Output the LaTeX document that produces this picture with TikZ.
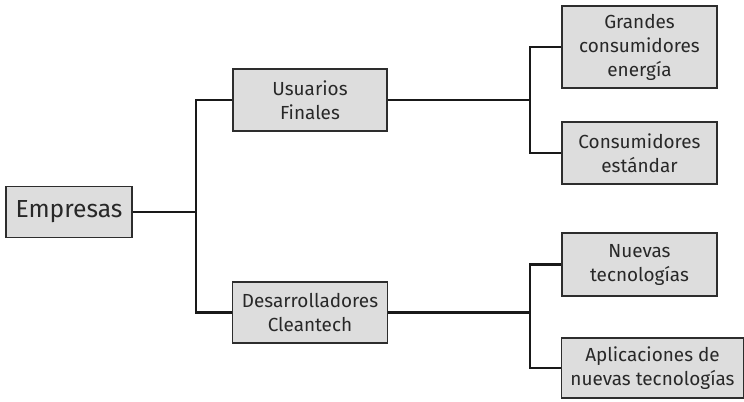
\documentclass[tikz,border=0pt]{standalone}
\usepackage{fontspec}
\setmainfont{Fira Sans}
\usepackage{tikz}

\definecolor{cajafondo}{RGB}{221,221,221}
\definecolor{cajaborde}{RGB}{45,45,45}
\definecolor{texto}{RGB}{40,40,40}

\begin{document}
\begin{tikzpicture}[x=0.75pt,y=0.75pt,yscale=-1,xscale=1,
  caja/.style={draw=cajaborde,fill=cajafondo,line width=0.9pt,inner sep=0pt,
    align=center,text=texto,font=\fontsize{14.2}{18}\selectfont},
  rama/.style={line width=2pt,black!90}]
\path[use as bounding box] (0,0) rectangle (744,401);

% Nivel 1
\node [caja,minimum width=94.5pt,minimum height=38.25pt,font=\fontsize{18.5}{22}\selectfont] (emp) at (69,212) {Empresas};

% Nivel 2
\node [caja,minimum width=115.5pt,minimum height=46.5pt] (usu) at (310,100) {Usuarios\\Finales};
\node [caja,minimum width=116.25pt,minimum height=45.75pt] (des) at (310,312.5) {Desarrolladores\\Cleantech};

% Nivel 3
\node [caja,minimum width=116.25pt,minimum height=61.5pt] (gra) at (639.5,47) {Grandes\\consumidores\\energía};
\node [caja,minimum width=116.25pt,minimum height=46.5pt] (con) at (639.5,153) {Consumidores\\estándar};
\node [caja,minimum width=116.25pt,minimum height=47.25pt] (nue) at (639.5,264.5) {Nuevas\\tecnologías};
\node [caja,minimum width=136.5pt,minimum height=45pt] (apl) at (652.5,368) {Aplicaciones de\\nuevas tecnologías};

% Puntos de unión
\coordinate (j1) at (196,212);
\coordinate (j2) at (530,100);
\coordinate (j3) at (530,312.5);

% Conectores
\draw [rama] (emp.east) -- (j1);
\draw [rama] (usu.west) -| (j1) |- (des.west);
\draw [rama] (usu.east) -- (j2);
\draw [rama] (gra.west) -| (j2) |- (con.west);
\draw [rama] (des.east) -- (j3);
\draw [rama] (nue.west) -| (j3) |- (apl.west);

\end{tikzpicture}
\end{document}
